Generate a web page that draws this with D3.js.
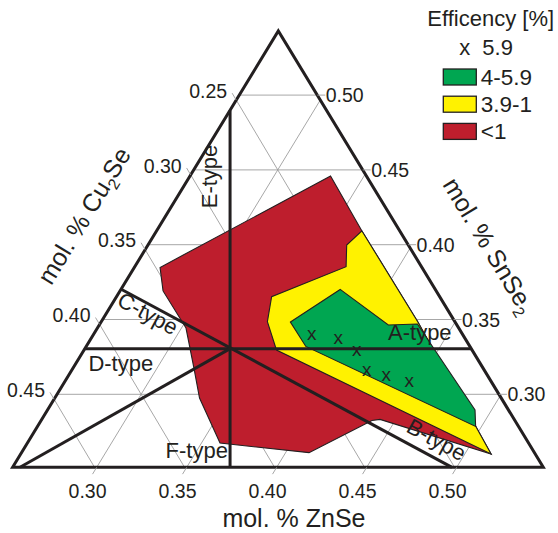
<!DOCTYPE html>
<html><head><meta charset="utf-8">
<script src="https://cdn.jsdelivr.net/npm/d3@7"></script>
<style>
body{margin:0;background:#fff}
svg{display:block}
text{font-family:"Liberation Sans",Arial,Helvetica,sans-serif;fill:#231f20}
</style>
</head><body>
<svg id="chart" width="558" height="533"></svg>
<script>
// ---- data: compositions as [ZnSe, SnSe2] mole fractions (Cu2Se = 1 - ZnSe - SnSe2)
const triangle = [[0.2533,0.2512],[0.5481,0.2512],[0.2533,0.5429]]; // BL (Cu2Se-rich), BR (ZnSe-rich), top (SnSe2-rich)
const znseTicks  = [0.30,0.35,0.40,0.45,0.50];
const cu2seTicks = [0.25,0.30,0.35,0.40,0.45];
const snse2Ticks = [0.30,0.35,0.40,0.45,0.50];

const redRegion = [[0.3314,0.4459],[0.3674,0.4092],[0.4293,0.3483],[0.5146,0.2601],[0.4412,0.2832],[0.4371,0.2825],
  [0.4130,0.2610],[0.3603,0.2674],[0.3337,0.2975],[0.3204,0.3176],[0.3025,0.3443],[0.2772,0.3691],[0.2676,0.3848]];
const yellowRegion = [[0.3674,0.4092],[0.4293,0.3483],[0.5146,0.2601],[0.3602,0.3296],[0.3456,0.3485],[0.3395,0.3652],
  [0.3707,0.3853],[0.3637,0.3998]];
const greenRegion = [[0.3585,0.3483],[0.3751,0.3701],[0.4139,0.3463],[0.4297,0.3470],[0.4908,0.2895],[0.4967,0.2785],[0.3753,0.3320]];
const samples = [[0.3748,0.3394],[0.3908,0.3370],[0.4052,0.3287],[0.4173,0.3159],[0.4301,0.3120],[0.4448,0.3082]];

const typeLines = [
  {from:[0.2534,0.4897], to:[0.3741,0.2512]},   // E-type / F-type
  {from:[0.2534,0.3305], to:[0.4678,0.3305]},   // D-type / A-type
  {from:[0.2534,0.3702], to:[0.4974,0.2512]},   // C-type / B-type
  {from:[0.3340,0.3305], to:[0.2574,0.2512]}
];
const typeLabels = [
  {text:"A-type", at:[0.4363,0.3366], angle:0},
  {text:"B-type", at:[0.4797,0.2652], angle:28.5},
  {text:"C-type", at:[0.2766,0.3496], angle:28.5},
  {text:"D-type", at:[0.2808,0.3156], angle:0},
  {text:"E-type", at:[0.2687,0.4456], angle:-90},
  {text:"F-type", at:[0.3526,0.2571], angle:0}
];
const legendTitle = "Efficency [%]";
const markerLabel = "5.9";
const legendItems = [
  {label:"4-5.9", color:"#00a651"},
  {label:"3.9-1", color:"#fff200"},
  {label:"<1",    color:"#be1e2d"}
];
const regionColors = {green:"#00a651", yellow:"#fff200", red:"#be1e2d"};
const INK = "#231f20";

// ---- scales / projection
const SHEAR = 0.6088; // horizontal drift per vertical pixel of a constant-ZnSe line
const sY = d3.scaleLinear().domain([0.30,0.50]).range([394.3,95.1]);
const zX = d3.scaleLinear().domain([0.30,0.50]).range([96.7,456.7]);
const yBase = sY(triangle[0][1]);
const proj = d => { const y = sY(d[1]); return [zX(d[0]) + (yBase - y) * SHEAR, y]; };

const svg = d3.select("#chart");
const line = d3.line();
const triPx = triangle.map(proj);

svg.append("clipPath").attr("id","tri").append("path").attr("d", line(triPx) + "Z");

// grid
const grid = svg.append("g").attr("clip-path","url(#tri)").attr("stroke","#9d9d9d").attr("stroke-width",0.9).attr("fill","none");
znseTicks.forEach(z => grid.append("path").attr("d", line([proj([z,0.15]),proj([z,0.65])])));
cu2seTicks.forEach(c => grid.append("path").attr("d", line([proj([1-c-0.15,0.15]),proj([1-c-0.65,0.65])])));
snse2Ticks.forEach(s => grid.append("path").attr("d", line([proj([0.15,s]),proj([0.65,s])])));

// regions
[[redRegion,regionColors.red],[yellowRegion,regionColors.yellow],[greenRegion,regionColors.green]].forEach(([pts,col]) => {
  svg.append("path").attr("d", line(pts.map(proj)) + "Z")
    .attr("fill", col).attr("stroke", INK).attr("stroke-width", 1.1).attr("stroke-linejoin","miter");
});

// sample crosses
svg.append("g").selectAll("text").data(samples).join("text")
  .attr("x", d => proj(d)[0]).attr("y", d => proj(d)[1] + 5)
  .attr("text-anchor","middle").attr("font-size",19).text("x");

// type lines
svg.append("g").selectAll("path").data(typeLines).join("path")
  .attr("d", d => line([proj(d.from), proj(d.to)]))
  .attr("stroke", INK).attr("stroke-width", 3).attr("fill","none");

// triangle outline
svg.append("path").attr("d", line(triPx) + "Z").attr("fill","none")
  .attr("stroke", INK).attr("stroke-width", 3).attr("stroke-linejoin","miter");

// ticks
const TL = 8;
const unit = (a,b) => { const dx=b[0]-a[0], dy=b[1]-a[1], l=Math.hypot(dx,dy); return [dx/l, dy/l]; };
const ticks = svg.append("g").attr("stroke","#9d9d9d").attr("stroke-width",0.9);
const labels = svg.append("g").attr("font-size",19.5);
const sB = triangle[0][1], z0 = triangle[0][0];

znseTicks.forEach(z => {
  const p = proj([z,sB]), u = unit(p, proj([z,sB-0.01]));
  const e = [p[0]+u[0]*TL, p[1]+u[1]*TL];
  ticks.append("line").attr("x1",p[0]).attr("y1",p[1]).attr("x2",e[0]).attr("y2",e[1]);
  labels.append("text").attr("x", e[0]-5).attr("y", e[1]+23.5).attr("text-anchor","middle").text(z.toFixed(2));
});
cu2seTicks.forEach(c => {
  const p = proj([z0, 1-c-z0]), u = unit(p, proj([z0-0.01, 1-c-z0+0.01]));
  const e = [p[0]+u[0]*TL, p[1]+u[1]*TL];
  ticks.append("line").attr("x1",p[0]).attr("y1",p[1]).attr("x2",e[0]).attr("y2",e[1]);
  labels.append("text").attr("x", e[0]-5).attr("y", e[1]+4.7).attr("text-anchor","end").text(c.toFixed(2));
});
snse2Ticks.forEach(s => {
  const a = triangle[1], b = triangle[2], t = (s - a[1])/(b[1]-a[1]);
  const p = proj([a[0] + t*(b[0]-a[0]), s]);
  ticks.append("line").attr("x1",p[0]).attr("y1",p[1]).attr("x2",p[0]+TL).attr("y2",p[1]);
  labels.append("text").attr("x", p[0]+TL+0.5).attr("y", p[1]+7).attr("text-anchor","start").text(s.toFixed(2));
});

// type labels
svg.append("g").attr("font-size",22).selectAll("text").data(typeLabels).join("text")
  .attr("text-anchor","middle")
  .attr("transform", d => { const p = proj(d.at); return `translate(${p[0]},${p[1]}) rotate(${d.angle})`; })
  .text(d => d.text);

// axis titles
const bl = triPx[0], br = triPx[1], tp = triPx[2];
const leftAng = Math.atan2(tp[1]-bl[1], tp[0]-bl[0]) * 180/Math.PI;
const rightAng = Math.atan2(br[1]-tp[1], br[0]-tp[0]) * 180/Math.PI;
const t1 = svg.append("text").attr("font-size",25).attr("text-anchor","middle")
  .attr("transform", `translate(${(bl[0]+tp[0])/2 - 54},${(bl[1]+tp[1])/2 - 29}) rotate(${leftAng})`);
t1.append("tspan").text("mol. % Cu");
t1.append("tspan").attr("font-size",16).attr("dy",6).text("2");
t1.append("tspan").attr("dy",-6).text("Se");

const t2 = svg.append("text").attr("font-size",25).attr("text-anchor","middle")
  .attr("transform", `translate(${(tp[0]+br[0])/2 + 71},${(tp[1]+br[1])/2 + 1}) rotate(${rightAng})`);
t2.append("tspan").text("mol. % SnSe");
t2.append("tspan").attr("font-size",16).attr("dy",6).text("2");

svg.append("text").attr("font-size",25).attr("text-anchor","middle")
  .attr("x", (bl[0]+br[0])/2 + 16).attr("y", bl[1] + 60).text("mol. % ZnSe");

// legend
const lg = svg.append("g").attr("transform","translate(443.3,0)");
lg.append("text").attr("x",-16).attr("y",26).attr("font-size",22).text(legendTitle);
lg.append("text").attr("x",21.5).attr("y",55).attr("font-size",22).attr("text-anchor","middle").text("x");
lg.append("text").attr("x",39).attr("y",55).attr("font-size",22).text(markerLabel);
const items = lg.selectAll("g.item").data(legendItems).join("g").attr("class","item")
  .attr("transform",(d,i)=>`translate(0,${69 + i*27.2})`);
items.append("rect").attr("width",33).attr("height",16).attr("fill",d=>d.color).attr("stroke",INK).attr("stroke-width",1.3);
items.append("text").attr("x",37.5).attr("y",16).attr("font-size",22.5).text(d=>d.label);
</script>
</body></html>
